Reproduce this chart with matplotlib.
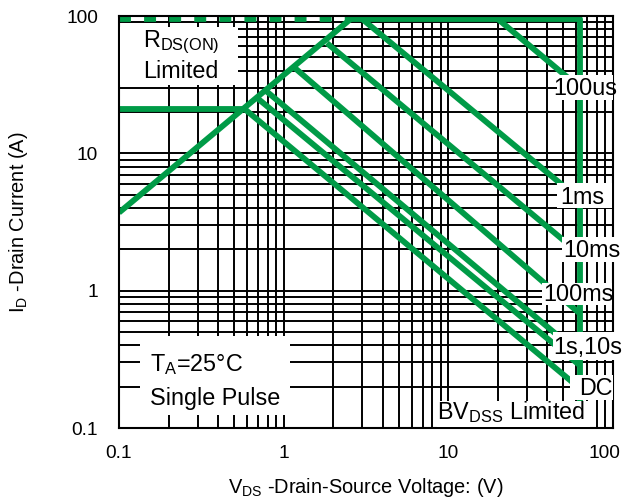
import matplotlib
matplotlib.use('Agg')
from matplotlib import pyplot as plt
from matplotlib.patches import Rectangle
from matplotlib.transforms import ScaledTranslation

plt.rcParams['font.family'] = ['Liberation Sans', 'DejaVu Sans']
plt.rcParams['mathtext.fontset'] = 'custom'
plt.rcParams['mathtext.rm'] = 'Liberation Sans'
plt.rcParams['mathtext.it'] = 'Liberation Sans'

# SOA curves (V, A)
rds_v = [0.1, 2.55]
rds_i = [3.7, 95]
rds_dash_v = [0.1, 2.55]
rds_dash_i = [95, 95]
ilim_v = [0.1, 0.58]
ilim_i = [21, 21]
edge_v = [2.55, 63, 63]
edge_i = [95, 95, 0.1]
us100_v = [20, 63]
us100_i = [95, 30]
ms1_v = [3.0, 63]
ms1_i = [95, 4.6]
ms10_v = [1.83, 63]
ms10_i = [63.5, 1.85]
ms100_v = [1.17, 63]
ms100_i = [41.8, 0.68]
s1_v = [0.77, 63]
s1_i = [28.9, 0.345]
s10_v = [0.69, 63]
s10_i = [25.3, 0.285]
dc_v = [0.58, 63]
dc_i = [21, 0.194]

xticks = [0.1, 1, 10, 100]
xlabels = ['0.1', '1', '10', '100']
yticks = [0.1, 1, 10, 100]
ylabels = ['0.1', '1', '10', '100']

green = '#009B47'
lw = 4.2

fig = plt.figure(figsize=(6.24, 4.98), dpi=100)
ax = fig.add_axes([119/624, 1-428/498, 494/624, 412/498])
ax.set_xscale('log')
ax.set_yscale('log')
ax.set_xlim(0.1, 100)
ax.set_ylim(0.1, 100)
ax.grid(which='both', color='black', linewidth=1.4)
ax.set_axisbelow(True)
ax.set_xticks(xticks, labels=xlabels)
ax.set_yticks(yticks, labels=ylabels)
ax.tick_params(which='both', length=0, labelsize=13.8)
ax.tick_params(axis='x', pad=12)
ax.tick_params(axis='y', pad=15)
for s in ax.spines.values():
    s.set_linewidth(1.5)
# last x label sits a little inside, as in the datasheet
last = ax.get_xticklabels()[-1]
last.set_transform(last.get_transform() + ScaledTranslation(-9/100, 0, fig.dpi_scale_trans))

ax.plot(rds_dash_v, rds_dash_i, color=green, lw=lw, linestyle=(0, (2.05, 2.25)), zorder=2)
for v, i in [(rds_v, rds_i), (ilim_v, ilim_i), (edge_v, edge_i), (us100_v, us100_i),
             (ms1_v, ms1_i), (ms10_v, ms10_i), (ms100_v, ms100_i), (s1_v, s1_i),
             (s10_v, s10_i), (dc_v, dc_i)]:
    ax.plot(v, i, color=green, lw=lw, solid_capstyle='butt', zorder=2)


def px(x, y):
    return (x - 119) / 494, (428 - y) / 412


def box(x0, y0, x1, y1):
    fx0, fy1 = px(x0, y0)
    fx1, fy0 = px(x1, y1)
    ax.add_patch(Rectangle((fx0, fy0), fx1 - fx0, fy1 - fy0, transform=ax.transAxes,
                           facecolor='white', edgecolor='none', zorder=3, clip_on=False))


def label(x, y, s, ha='center'):
    fx, fy = px(x, y)
    ax.text(fx, fy, s, transform=ax.transAxes, ha=ha, va='center', fontsize=16.8,
            zorder=4, clip_on=False)


box(120, 27, 238, 85)
label(143, 56, r'$\mathrm{R_{DS(ON)}}$' + '\nLimited', ha='left')
box(140, 336, 290, 415)
label(150, 365, r'$\mathrm{T_A}$=25°C', ha='left')
label(150, 398, 'Single Pulse', ha='left')
box(557, 75, 613, 100)
label(585, 88, '100us')
box(557, 183, 612, 208)
label(582, 197, '1ms')
box(562, 237, 622, 262)
label(592, 250, '10ms')
box(542, 283, 612, 305)
label(578, 294, '100ms')
box(553, 332, 623, 360)
label(588, 347, '1s,10s')
box(570, 375, 613, 400)
label(596, 388, 'DC')
box(437, 401, 590, 427)
label(511, 412, r'$\mathrm{BV_{DSS}}$ Limited')

ax.set_xlabel(r'$\mathrm{V_{DS}}$ -Drain-Source Voltage: (V)', fontsize=14.4, labelpad=10)
ax.set_ylabel(r'$\mathrm{I_D}$ -Drain Current (A)', fontsize=14.4, labelpad=26)

fig.savefig('out.png', dpi=100)
